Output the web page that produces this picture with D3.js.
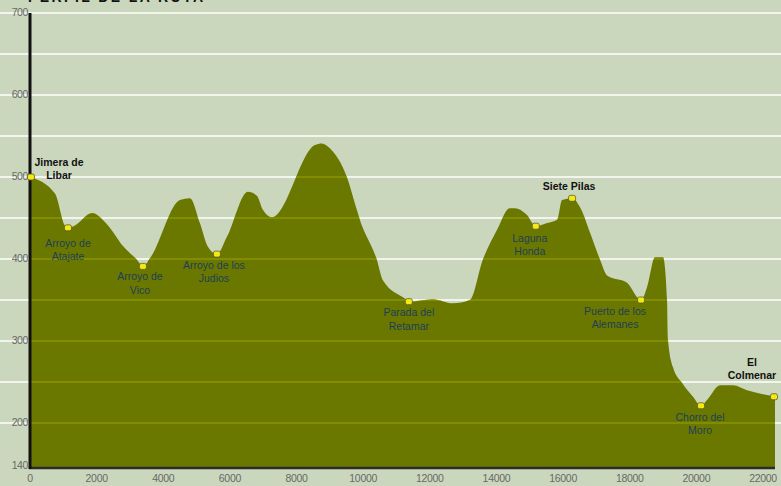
<!DOCTYPE html>
<html>
<head>
<meta charset="utf-8">
<script src="https://cdn.jsdelivr.net/npm/d3@7"></script>
<style>
  body { margin: 0; background: #cbd7bc; overflow: hidden; }
  svg { display: block; font-family: "Liberation Sans", Arial, sans-serif; }
</style>
</head>
<body>
<div id="chart"></div>
<script>
// profile: distance (m) and elevation (m)
const distances = [0, 750, 1050, 1140, 1350, 1860, 2340, 2790, 3210, 3390, 3600, 4500, 4800, 5100, 5340, 5610,
  5910, 6540, 6810, 6990, 7260, 8550, 8760, 9000, 9510, 9810, 9900, 10410, 10590, 11310, 11370, 12090, 12690,
  13200, 13590, 14010, 14400, 14550, 14910, 15180, 15520, 15820, 15970, 16270, 16510, 16810, 17110, 17320,
  17920, 18340, 18520, 18760, 19000, 19120, 19150, 19300, 19570, 19900, 20140, 20320, 20710, 21100, 21520,
  22120, 22360];
const elevations = [500, 480, 441, 438, 441, 456, 441, 416, 399, 391, 401, 472, 474, 444, 415, 406,
  427, 482, 477, 460, 451, 539, 541, 535, 500, 460, 448, 399, 374, 350, 348, 351, 346,
  350, 399, 435, 462, 462, 454, 440, 444, 448, 472, 474, 463, 432, 399, 380,
  371, 350, 366, 402, 402, 350, 301, 268, 249, 232, 221, 228, 246, 246, 240,
  234, 232];

// waypoints
const wpNames = [["Jimera de", "Libar"], ["Arroyo de", "Atajate"], ["Arroyo de", "Vico"], ["Arroyo de los", "Judios"],
  ["Parada del", "Retamar"], ["Laguna", "Honda"], ["Siete Pilas"], ["Puerto de los", "Alemanes"],
  ["Chorro del", "Moro"], ["El", "Colmenar"]];
const wpDistances = [30, 1140, 3390, 5610, 11370, 15180, 16270, 18340, 20140, 22360];
const wpElevations = [500, 438, 391, 406, 348, 440, 474, 350, 221, 232];

const yTicks = [700, 600, 500, 400, 300, 200, 140];
const gridValues = [700, 650, 600, 550, 500, 450, 400, 350, 300, 250, 200];
const xTicks = [0, 2000, 4000, 6000, 8000, 10000, 12000, 14000, 16000, 18000, 20000, 22000];

// label placement (offsets from the marker, px) and style
const labelPos = [
  { dx: 28, dy: -14, bold: true }, { dx: 0, dy: 16 }, { dx: -3, dy: 11 }, { dx: -3, dy: 12 },
  { dx: 0, dy: 12 }, { dx: -6, dy: 13 }, { dx: -3, dy: -11, bold: true }, { dx: -26, dy: 12 },
  { dx: -1, dy: 12 }, { dx: -22, dy: -34, bold: true }
];

const width = 781, height = 486;
const mLeft = 30, mRight = 763, mTop = 13, mBottom = 467;

const x = d3.scaleLinear().domain([0, 22000]).range([mLeft, mRight]);
const y = d3.scaleLinear().domain([200, 700]).range([423, mTop]);

const svg = d3.select("#chart").append("svg")
  .attr("width", width).attr("height", height);

svg.append("rect").attr("width", width).attr("height", height).attr("fill", "#cbd7bc");

// title (cut off at the top, as in the original)
svg.append("text")
  .attr("x", 28).attr("y", 2)
  .style("font-size", "14px").style("font-weight", "bold")
  .attr("textLength", 175)
  .attr("fill", "#111")
  .text("PERFIL DE LA RUTA");

// background grid
svg.append("g").selectAll("line")
  .data(gridValues).join("line")
  .attr("x1", 0).attr("x2", width)
  .attr("y1", (d) => y(d)).attr("y2", (d) => y(d))
  .attr("stroke", "#ffffff").attr("stroke-width", 1.6);

const data = distances.map((d, i) => ({ d: d, e: elevations[i] }));

const area = d3.area()
  .x((p) => x(p.d))
  .y0(mBottom)
  .y1((p) => y(p.e))
  .curve(d3.curveMonotoneX);

svg.append("path")
  .datum(data)
  .attr("d", area)
  .attr("fill", "#6b7800");

// grid over the fill, tinted
svg.append("clipPath").attr("id", "fillclip")
  .append("path").datum(data).attr("d", area);

svg.append("g").attr("clip-path", "url(#fillclip)")
  .selectAll("line")
  .data(gridValues).join("line")
  .attr("x1", 0).attr("x2", width)
  .attr("y1", (d) => y(d)).attr("y2", (d) => y(d))
  .attr("stroke", "#9aa400").attr("stroke-width", 1.2);

// axes
svg.append("line")
  .attr("x1", mLeft - 1).attr("x2", x(22360))
  .attr("y1", mBottom + 1).attr("y2", mBottom + 1)
  .attr("stroke", "#2b2b2b").attr("stroke-width", 2.5);

svg.append("line")
  .attr("x1", mLeft).attr("x2", mLeft)
  .attr("y1", mTop).attr("y2", mBottom + 2)
  .attr("stroke", "#111").attr("stroke-width", 3);

svg.append("g").selectAll("text")
  .data(yTicks).join("text")
  .attr("x", mLeft - 2)
  .attr("y", (d) => (d === 140 ? mBottom - 1 : y(d)))
  .attr("text-anchor", "end")
  .attr("dominant-baseline", "middle")
  .style("font-size", "10.5px")
  .style("letter-spacing", "-0.4px")
  .attr("fill", "#686868")
  .text((d) => d);

svg.append("g").selectAll("text")
  .data(xTicks).join("text")
  .attr("x", (d) => x(d))
  .attr("y", mBottom + 12)
  .attr("text-anchor", "middle")
  .attr("dominant-baseline", "middle")
  .style("font-size", "10.5px")
  .style("letter-spacing", "-0.3px")
  .attr("fill", "#686868")
  .text((d) => d);

// waypoints
const wp = svg.append("g").selectAll("g")
  .data(wpNames.map((n, i) => ({ name: n, d: wpDistances[i], e: wpElevations[i], pos: labelPos[i] })))
  .join("g")
  .attr("transform", (p) => "translate(" + Math.min(x(p.d), 774) + "," + y(p.e) + ")");

wp.append("rect")
  .attr("x", -3.5).attr("y", -3).attr("width", 7).attr("height", 6).attr("rx", 2)
  .attr("fill", "#f2ea10").attr("stroke", "#5a5a30").attr("stroke-width", 0.8);

wp.each(function (p) {
  const g = d3.select(this);
  const t = g.append("text")
    .attr("text-anchor", "middle")
    .style("font-size", "10.5px")
    .style("font-weight", p.pos.bold ? "bold" : "normal")
    .attr("fill", p.pos.bold ? "#111" : "#1d3f55");
  p.name.forEach((line, i) => {
    t.append("tspan")
      .attr("x", p.pos.dx)
      .attr("y", p.pos.dy + i * 13.5)
      .attr("dominant-baseline", "middle")
      .text(line);
  });
});
</script>
</body>
</html>
